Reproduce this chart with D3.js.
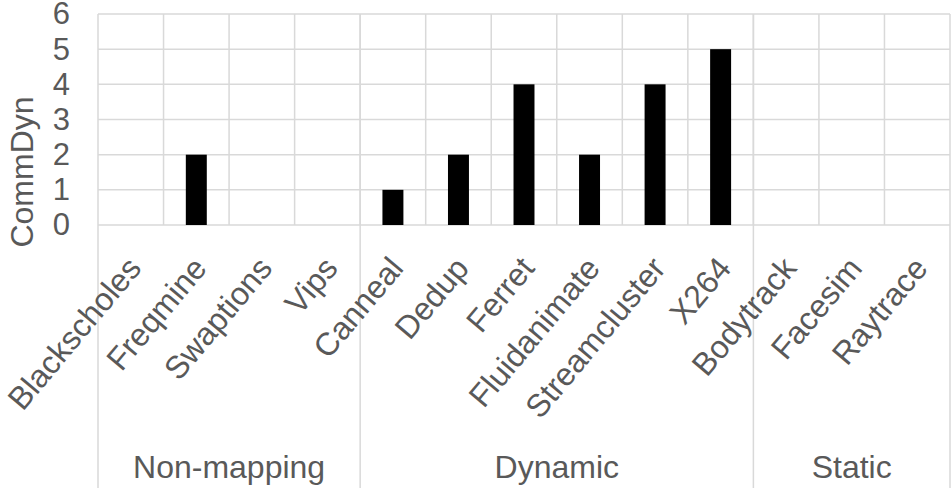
<!DOCTYPE html>
<html>
<head>
<meta charset="utf-8">
<script src="https://cdn.jsdelivr.net/npm/d3@7"></script>
<style>
  body { margin: 0; background: #fff; }
  svg { display: block; }
  text { font-family: "Liberation Sans", Arial, sans-serif; fill: #595959; }
</style>
</head>
<body>
<svg></svg>
<script>
const CATEGORIES = ['Blackscholes', 'Freqmine', 'Swaptions', 'Vips', 'Canneal', 'Dedup', 'Ferret',
  'Fluidanimate', 'Streamcluster', 'X264', 'Bodytrack', 'Facesim', 'Raytrace'];
const VALUES = [0, 2, 0, 0, 1, 2, 4, 2, 4, 5, 0, 0, 0];
const GROUPS = ['Non-mapping', 'Dynamic', 'Static'];
const GROUP_SIZES = [4, 6, 3];
const Y_TICKS = [0, 1, 2, 3, 4, 5, 6];
const Y_TITLE = 'CommDyn';

const WIDTH = 951;
const HEIGHT = 495;
const PLOT = { left: 98, right: 950, top: 14, bottom: 225 };
const GROUP_BOTTOM = 488;
const GRID = '#d9d9d9';

const svg = d3.select('svg')
    .attr('width', WIDTH)
    .attr('height', HEIGHT);

const x = d3.scaleBand()
    .domain(CATEGORIES)
    .range([PLOT.left, PLOT.right])
    .padding(0);

const y = d3.scaleLinear()
    .domain([0, 6])
    .range([PLOT.bottom, PLOT.top]);

// horizontal gridlines
svg.append('g')
    .selectAll('line')
    .data(Y_TICKS)
    .enter()
    .append('line')
    .attr('x1', PLOT.left)
    .attr('x2', PLOT.right)
    .attr('y1', d => y(d))
    .attr('y2', d => y(d))
    .attr('stroke', GRID)
    .attr('stroke-width', 1.5);

// category separators inside the plot
svg.append('g')
    .selectAll('line')
    .data(CATEGORIES.slice(1))
    .enter()
    .append('line')
    .attr('x1', d => x(d))
    .attr('x2', d => x(d))
    .attr('y1', PLOT.top)
    .attr('y2', PLOT.bottom)
    .attr('stroke', GRID)
    .attr('stroke-width', 1.5);

// group separators run down through the labels
let acc = 0;
const groupEdges = [0];
GROUP_SIZES.forEach(n => { acc += n; groupEdges.push(acc); });
const edgeX = i => i < CATEGORIES.length ? x(CATEGORIES[i]) : PLOT.right;

svg.append('g')
    .selectAll('line')
    .data(groupEdges)
    .enter()
    .append('line')
    .attr('x1', d => edgeX(d))
    .attr('x2', d => edgeX(d))
    .attr('y1', PLOT.top)
    .attr('y2', GROUP_BOTTOM)
    .attr('stroke', GRID)
    .attr('stroke-width', 1.5);

// bars
const barW = x.bandwidth() * 0.32;
svg.append('g')
    .selectAll('rect')
    .data(CATEGORIES.map((c, i) => ({ cat: c, value: VALUES[i] })))
    .enter()
    .append('rect')
    .attr('x', d => x(d.cat) + (x.bandwidth() - barW) / 2)
    .attr('width', barW)
    .attr('y', d => y(d.value))
    .attr('height', d => y(0) - y(d.value))
    .attr('fill', '#000');

// y axis labels
const yAxis = svg.append('g')
    .attr('transform', `translate(${PLOT.left}, 0)`)
    .call(d3.axisLeft(y).tickValues(Y_TICKS).tickFormat(d3.format('d')).tickSize(0).tickPadding(28));
yAxis.select('.domain').remove();
yAxis.selectAll('text')
    .style('font-size', '31px')
    .style('font-family', '"Liberation Sans", Arial, sans-serif')
    .attr('fill', '#595959');

svg.append('text')
    .attr('transform', 'translate(33, 172) rotate(-90)')
    .attr('text-anchor', 'middle')
    .style('font-size', '32px')
    .text(Y_TITLE);

// rotated category labels
svg.append('g')
    .selectAll('text')
    .data(CATEGORIES)
    .enter()
    .append('text')
    .attr('transform', d => `translate(${x(d) + x.bandwidth() / 2 + 12}, 269) rotate(-50)`)
    .attr('text-anchor', 'end')
    .style('font-size', '32px')
    .text(d => d);

// group labels
svg.append('g')
    .selectAll('text')
    .data(GROUPS)
    .enter()
    .append('text')
    .attr('x', (d, i) => (edgeX(groupEdges[i]) + edgeX(groupEdges[i + 1])) / 2)
    .attr('y', 478)
    .attr('text-anchor', 'middle')
    .style('font-size', '32px')
    .text(d => d);
</script>
</body>
</html>
